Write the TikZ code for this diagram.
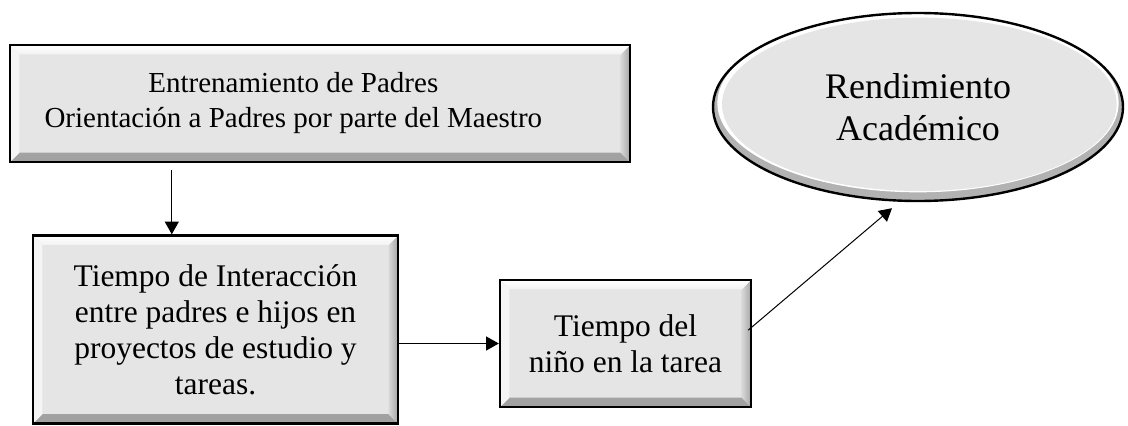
\documentclass[tikz,border=0pt]{standalone}
\usepackage{fontspec}
\setmainfont{Liberation Serif}
\usetikzlibrary{shapes.geometric,arrows.meta}
\begin{document}
\begin{tikzpicture}[   % opciones por defecto
  x=0.75pt, y=-0.75pt,  % coordenadas en pixeles de la figura
  line width=0.75pt,    % linea fina para las flechas
  -{Triangle[length=9.5pt,width=10.5pt]}, % punta de flecha rellena
  draw=black!100        % linea negro 100%
]
  \tikzstyle{bisel}=[path picture={
    \shade[top color=gray!35, bottom color=gray!75]
      (path picture bounding box.south west) -- (path picture bounding box.south east)
      -- ([shift={(-7pt,7pt)}]path picture bounding box.south east)
      -- ([shift={(7pt,7pt)}]path picture bounding box.south west) -- cycle;
    \shade[left color=gray!30, right color=gray!70]
      (path picture bounding box.south east) -- (path picture bounding box.north east)
      -- ([shift={(-7pt,-7pt)}]path picture bounding box.north east)
      -- ([shift={(-7pt,7pt)}]path picture bounding box.south east) -- cycle;
    \shade[top color=white, bottom color=gray!10]
      (path picture bounding box.north west) -- (path picture bounding box.north east)
      -- ([shift={(-7pt,-7pt)}]path picture bounding box.north east)
      -- ([shift={(7pt,-7pt)}]path picture bounding box.north west) -- cycle;
    \fill[gray!8]
      (path picture bounding box.north west) -- (path picture bounding box.south west)
      -- ([shift={(7pt,7pt)}]path picture bounding box.south west)
      -- ([shift={(7pt,-7pt)}]path picture bounding box.north west) -- cycle;
  }];
  \tikzstyle{caja}=[draw, solid, -, line width=1.8pt, fill=gray!20, inner sep=0pt,
    align=center, font=\fontsize{23.6}{27}\selectfont, bisel];
  \tikzstyle{texto}=[-, inner sep=0pt, align=center];
  \tikzstyle{elipse}=[draw, -, ellipse, line width=1.8pt, fill=gray!60, inner sep=0pt,
    minimum width=307.5pt, minimum height=141pt, align=center,
    font=\fontsize{27}{31.5}\selectfont,
    path picture={
      \fill[white] ([yshift=3pt]path picture bounding box.center)
        ellipse [x radius=150.5pt, y radius=67pt];
      \fill[gray!20] ([shift={(1pt,2pt)}]path picture bounding box.center)
        ellipse [x radius=148pt, y radius=65pt];
  }];
  %
  \useasboundingbox (0,0) rectangle (1128,425);
  %
  % entrenamiento de padres
  \node [caja, minimum width=465pt, minimum height=87.75pt] (ent) at (320,103.5) {};
  \node [texto, font=\fontsize{21.75}{26.25}\selectfont] (ent-t)
    at ([xshift=-20pt]ent.center)
    {Entrenamiento de Padres\\Orientación a Padres por parte del Maestro};
  %
  % tiempo de interaccion
  \node [caja, minimum width=273.75pt, minimum height=141pt] (int) at (215.5,329.5)
    {Tiempo de Interacción\\entre padres e hijos en\\proyectos de estudio y\\tareas.};
  %
  % tiempo en la tarea
  \node [caja, minimum width=188.25pt, minimum height=95.25pt] (tar) at (625.5,343.5)
    {Tiempo del\\niño en la tarea};
  %
  % rendimiento
  \node [elipse] (ren) at (918,107) {Rendimiento\\Académico};
  %
  % conexiones
  \coordinate (c1) at ([xshift=105pt]int.north west);
  \draw[shorten <=5pt] (c1 |- ent.south) -- (c1);
  \draw[] (int.east |- tar.west) -- (tar.west);
  \draw[] ([shift={(-3pt,10pt)}]tar.east) -- ([shift={(-19.5pt,-4.5pt)}]ren.south);
\end{tikzpicture}
\end{document}
